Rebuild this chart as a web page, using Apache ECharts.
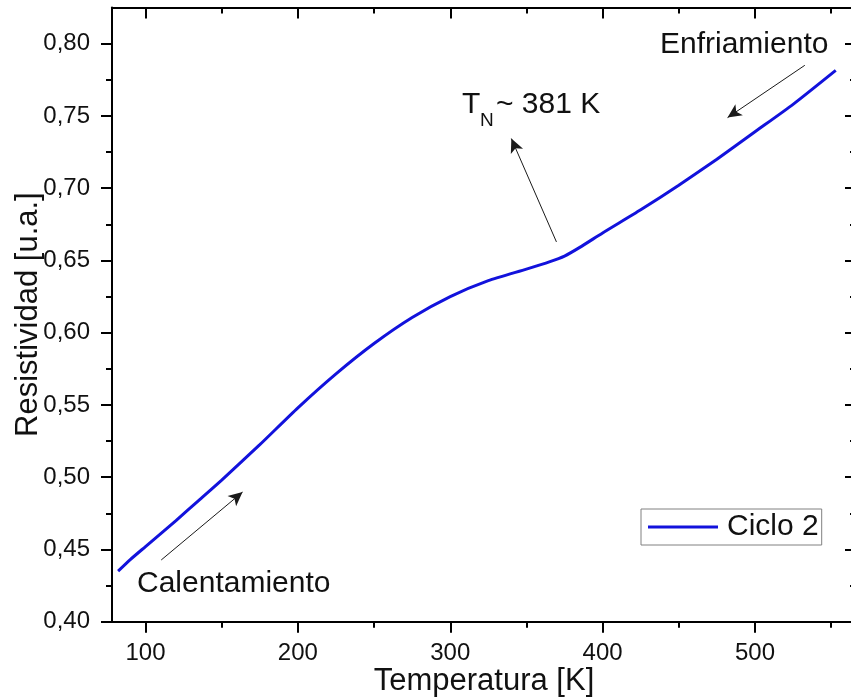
<!DOCTYPE html>
<html>
<head>
<meta charset="utf-8">
<script src="https://cdn.jsdelivr.net/npm/echarts@6/dist/echarts.min.js"></script>
<style>
  html, body { margin: 0; padding: 0; background: #fff; }
  #chart { width: 851px; height: 700px; }
</style>
</head>
<body>
<div id="chart"></div>
<script>
// temperatura [K] y resistividad [u.a.]
const temperature = [82, 90, 100, 120, 135, 150, 175, 200, 225, 250, 275, 300, 325, 350, 365, 375, 385, 400, 425, 450, 475, 500, 525, 553];
const resistivity = [0.435, 0.443, 0.452, 0.470, 0.484, 0.498, 0.5225, 0.548, 0.5715, 0.5925, 0.6105, 0.625, 0.636, 0.644, 0.649, 0.653, 0.659, 0.669, 0.685, 0.702, 0.720, 0.739, 0.758, 0.7815];

const xMajorTicks = [100, 200, 300, 400, 500];
const xMinorTicks = [150, 250, 350, 450, 550];
const yMajorTicks = [0.40, 0.45, 0.50, 0.55, 0.60, 0.65, 0.70, 0.75, 0.80];
const yMinorTicks = [0.425, 0.475, 0.525, 0.575, 0.625, 0.675, 0.725, 0.775];

// flechas de anotacion (desde -> hasta) en coordenadas de datos
const arrowFrom = [[110.3, 0.4427], [532.7, 0.785], [369.7, 0.6628]];
const arrowTo = [[163.7, 0.4897], [482, 0.7488], [340.1, 0.7343]];

const FONT = "'Liberation Sans', Arial, sans-serif";
const xRange = [78, 566.3];
const yRange = [0.40, 0.825];

const chart = echarts.init(document.getElementById('chart'));

const tickAxisX = (position, values, len, inside, withLine) => ({
    type: 'value',
    position: position,
    min: xRange[0],
    max: xRange[1],
    axisLine: { show: withLine, onZero: false, lineStyle: { color: '#000', width: 2 } },
    axisTick: { show: true, inside: inside, length: len, customValues: values, lineStyle: { color: '#000', width: 2 } },
    axisLabel: { show: false },
    splitLine: { show: false },
});

const tickAxisY = (position, values, len, inside, withLine) => ({
    type: 'value',
    position: position,
    min: yRange[0],
    max: yRange[1],
    axisLine: { show: withLine, onZero: false, lineStyle: { color: '#000', width: 2 } },
    axisTick: { show: true, inside: inside, length: len, customValues: values, lineStyle: { color: '#000', width: 2 } },
    axisLabel: { show: false },
    splitLine: { show: false },
});

const xMain = tickAxisX('bottom', xMajorTicks, 11, false, true);
xMain.axisLabel = {
    show: true,
    customValues: xMajorTicks,
    margin: 20,
    color: '#111',
    fontFamily: FONT,
    fontSize: 24,
};
xMain.name = 'Temperatura [K]';
xMain.nameLocation = 'middle';
xMain.nameGap = 44;
xMain.nameMoveOverlap = false;
xMain.nameTextStyle = { color: '#111', fontFamily: FONT, fontSize: 31 };

const yMain = tickAxisY('left', yMajorTicks, 11, false, true);
yMain.axisLabel = {
    show: true,
    customValues: yMajorTicks,
    margin: 22,
    color: '#111',
    fontFamily: FONT,
    fontSize: 24,
    formatter: (v) => v.toFixed(2).replace('.', ','),
};
yMain.name = 'Resistividad [u.a.]';
yMain.nameLocation = 'middle';
yMain.nameGap = 68;
yMain.nameMoveOverlap = false;
yMain.nameTextStyle = { color: '#111', fontFamily: FONT, fontSize: 31 };

const option = {
    animation: false,
    backgroundColor: '#fff',
    grid: { left: 112, right: -5, top: 7.5, bottom: 78.3, outerBoundsMode: 'none', containLabel: false },
    xAxis: [
        xMain,
        tickAxisX('bottom', xMinorTicks, 6, false, false),
        tickAxisX('top', xMajorTicks, 11, true, true),
        tickAxisX('top', xMinorTicks, 6, true, false),
    ],
    yAxis: [
        yMain,
        tickAxisY('left', yMinorTicks, 6, false, false),
        tickAxisY('right', yMajorTicks, 11, true, true),
        tickAxisY('right', yMinorTicks, 6, true, false),
    ],
    legend: {
        left: 641,
        top: 509,
        padding: [3, 3, 3, 7],
        borderColor: '#808080',
        borderWidth: 1,
        itemWidth: 70,
        itemHeight: 3,
        textStyle: { color: '#111', fontFamily: FONT, fontSize: 30, padding: [0, 0, 0, 4] },
        data: [{ name: 'Ciclo 2', icon: 'rect' }],
    },
    series: [
        {
            name: 'Ciclo 2',
            type: 'line',
            xAxisIndex: 0,
            yAxisIndex: 0,
            data: temperature.map((t, i) => [t, resistivity[i]]),
            symbol: 'none',
            smooth: 0.2,
            lineStyle: { color: '#1212dc', width: 3 },
            itemStyle: { color: '#1212dc' },
            markLine: {
                silent: true,
                symbol: ['none', 'arrow'],
                symbolSize: [10, 14],
                label: { show: false },
                lineStyle: { color: '#1a1a1a', width: 1, type: 'solid' },
                data: arrowFrom.map((p, i) => [{ coord: p }, { coord: arrowTo[i] }]),
            },
        },
    ],
    graphic: [
        { type: 'text', left: 137, top: 569, style: { text: 'Calentamiento', font: '30px ' + FONT, fill: '#111' } },
        { type: 'text', left: 660, top: 30, style: { text: 'Enfriamiento', font: '30px ' + FONT, fill: '#111' } },
        { type: 'text', left: 462, top: 90, style: { text: 'T', font: '30px ' + FONT, fill: '#111' } },
        { type: 'text', left: 480, top: 111, style: { text: 'N', font: '19px ' + FONT, fill: '#111' } },
        { type: 'text', left: 496, top: 90, style: { text: '~ 381 K', font: '30px ' + FONT, fill: '#111' } },
    ],
};

chart.setOption(option);
</script>
</body>
</html>
